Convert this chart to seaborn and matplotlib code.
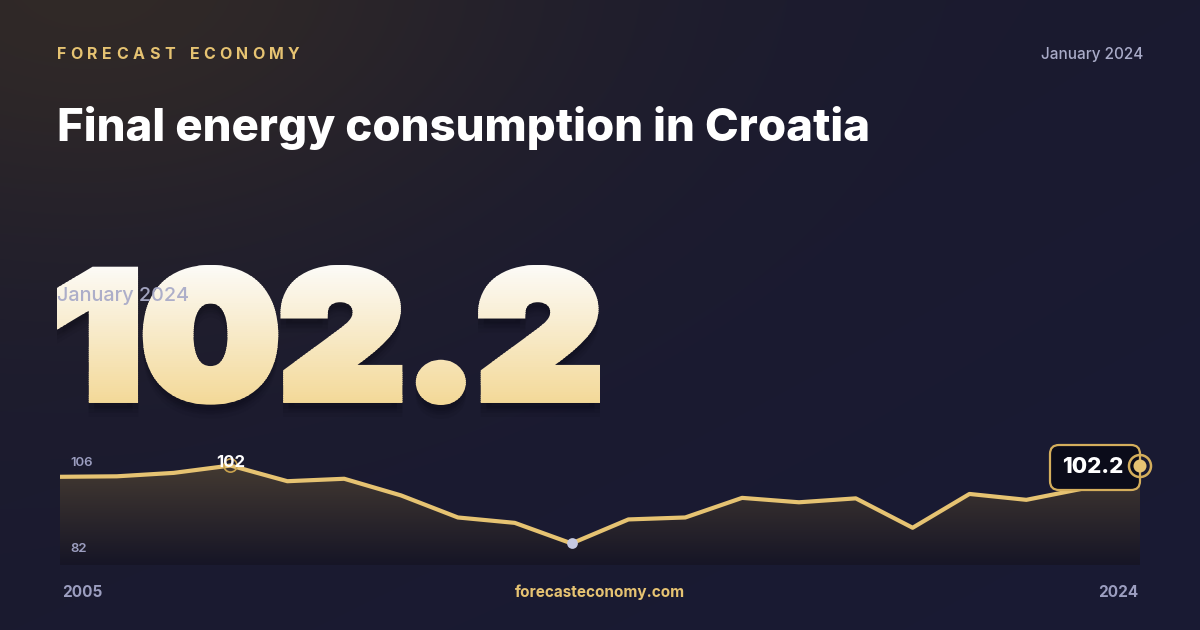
import numpy as np
import pandas as pd
import matplotlib
matplotlib.use("Agg")
import matplotlib.pyplot as plt
import seaborn as sns
from matplotlib.patches import Polygon, PathPatch, FancyBboxPatch, Circle, Rectangle
from matplotlib.textpath import TextPath
from matplotlib.font_manager import FontProperties, findfont
from matplotlib.transforms import Affine2D

# Data (annual index)
years = [2005, 2006, 2007, 2008, 2009, 2010, 2011, 2012, 2013, 2014,
         2015, 2016, 2017, 2018, 2019, 2020, 2021, 2022, 2023, 2024]
values = [100.0, 100.1, 100.8, 102.3, 99.1, 99.6, 96.2, 91.7, 90.6, 86.4,
          91.3, 91.7, 95.7, 94.8, 95.6, 89.6, 96.5, 95.3, 97.6, 102.2]
y_ticks = [106, 82]
latest_value = "102.2"
peak_label = "102"
period = "January 2024"
title = "Final energy consumption in Croatia"
brand = "FORECAST ECONOMY"
site = "forecasteconomy.com"

df = pd.DataFrame({"year": years, "value": values})

GOLD = "#e6c372"
MUTED = "#9c9ec0"
W, H = 1200, 630

sns.set_theme(style="white")
plt.rcParams["font.family"] = ["Inter", "DejaVu Sans"]


def inter(weight):
    # pin the exact font file so the weight is honoured
    path = findfont(FontProperties(family="Inter", weight=weight), fallback_to_default=True)
    return FontProperties(fname=path)


fp_black = inter(900)
fp_xbold = inter(800)
fp_bold = inter(700)
fp_semi = inter(600)
fp_med = inter(500)

fig = plt.figure(figsize=(12, 6.3), dpi=100)

# background canvas in pixel coordinates
bg = fig.add_axes([0, 0, 1, 1])
bg.set_xlim(0, W)
bg.set_ylim(H, 0)
bg.axis("off")

yy, xx = np.mgrid[0:H, 0:W]
base0 = np.array([0x1c, 0x1b, 0x2c]) / 255
base1 = np.array([0x19, 0x1a, 0x34]) / 255
t = ((xx / W) * 0.5 + (yy / H) * 0.5)[..., None]
img = base0 * (1 - t) + base1 * t
glow = np.exp(-(((xx - 90) / 450.0) ** 2 + ((yy + 20) / 280.0) ** 2))[..., None]
warm = np.array([0x33, 0x2b, 0x27]) / 255
img = img * (1 - glow * 0.9) + warm * glow * 0.9
bg.imshow(img, extent=[0, W, H, 0], aspect="auto", zorder=0)

# header
bsize = 11.5
bx = 57
for ch in brand:
    bg.text(bx, 59, ch, color=GOLD, fontproperties=fp_bold, fontsize=bsize,
            va="baseline", ha="left")
    if ch == " ":
        wch = 4
    else:
        wch = TextPath((0, 0), ch, prop=fp_bold, size=bsize * 100 / 72).get_extents().width
    bx += wch + 5.9
bg.text(1143, 59, period, color="#a9abc8", fontproperties=fp_med, fontsize=11,
        ha="right", va="baseline")
bg.text(57, 141, title, color="white", fontproperties=fp_xbold, fontsize=32.8,
        ha="left", va="baseline")

# big gradient number (stroked to get the extra-heavy look)
thick = 5.5  # px added on each side of the outline
x0, x1, y0, y1 = 57, 600, 265, 405
tp = TextPath((0, 0), latest_value, prop=fp_black, size=193)
ext = tp.get_extents()
sx = (x1 - x0 - 2 * thick) / ext.width
sy = (y1 - y0 - 2 * thick) / ext.height
tr = Affine2D().translate(-ext.x0, -ext.y0).scale(sx, -sy).translate(x0 + thick, y1 - thick)
path = tr.transform_path(tp)
lw = 2 * thick * 72 / 100

for dy, a in [(14, 0.06), (10, 0.08), (6, 0.10)]:
    sh = PathPatch(Affine2D().translate(0, dy).transform_path(path), facecolor="#05050c",
                   edgecolor="#05050c", linewidth=lw, joinstyle="miter", alpha=a, zorder=2)
    bg.add_patch(sh)

top_c = np.array([0xfc, 0xfb, 0xf8])
bot_c = np.array([0xf3, 0xd8, 0x96])
n_band = 75
edges = np.linspace(y0 - 2, y1 + 2, n_band + 1)
for i in range(n_band):
    f = i / (n_band - 1)
    c = tuple((top_c * (1 - f) + bot_c * f) / 255)
    band = PathPatch(path, facecolor=c, edgecolor=c, linewidth=lw,
                     joinstyle="miter", zorder=3)
    bg.add_patch(band)
    clip = Rectangle((0, edges[i]), W, edges[i + 1] - edges[i] + 0.6, transform=bg.transData)
    band.set_clip_path(clip)

bg.text(57, 301, period, color="#a9abc8", fontproperties=fp_med, fontsize=14.3,
        ha="left", va="baseline", alpha=0.95, zorder=4)

# footer
bg.text(62, 597, "2005", color=MUTED, fontproperties=fp_bold, fontsize=11, va="baseline")
bg.text(1138, 597, "2024", color=MUTED, fontproperties=fp_bold, fontsize=11,
        va="baseline", ha="right")
bg.text(600, 597, site, color=GOLD, fontproperties=fp_bold, fontsize=11,
        va="baseline", ha="center")

# chart axes
ax = fig.add_axes([60 / W, (H - 565) / H, 1080 / W, 117.6 / H])
ax.patch.set_alpha(0)

verts = [(years[0], 82)] + list(zip(years, values)) + [(years[-1], 82)]
area = Polygon(verts, closed=True, facecolor="none", edgecolor="none")
ax.add_patch(area)
ag = np.linspace(0, 1, 256)[:, None, None]
a_top = np.array([0x45, 0x3b, 0x32]) / 255
a_bot = np.array([0x16, 0x15, 0x26]) / 255
aimg = a_top * (1 - ag) + a_bot * ag
ai = ax.imshow(aimg, extent=[2005, 2024, 82, 103], aspect="auto", zorder=1)
ai.set_clip_path(area)

sns.lineplot(data=df, x="year", y="value", ax=ax, color=GOLD, linewidth=3,
             zorder=3, solid_joinstyle="round", solid_capstyle="round")
ax.set_xlim(2005, 2024)
ax.set_ylim(82, 106)
ax.axis("off")

# min / max markers
imin = int(np.argmin(values))
imax = int(np.argmax(values))
ax.scatter([years[imin]], [values[imin]], s=60, color="#c6c9e2", zorder=5, linewidths=0)
ax.scatter([years[imax]], [values[imax]], s=90, facecolors="none",
           edgecolors="#c9a24e", linewidths=1.2, zorder=5)
ax.annotate(peak_label, (years[imax], values[imax]), xytext=(0, -1),
            textcoords="offset points", ha="center", va="baseline",
            color="white", fontproperties=fp_bold, fontsize=12, zorder=6)

# overlay layer in pixel coords
top = fig.add_axes([0, 0, 1, 1])
top.set_xlim(0, W)
top.set_ylim(H, 0)
top.axis("off")
top.patch.set_alpha(0)

top.text(70, 466, str(y_ticks[0]), color=MUTED, fontproperties=fp_semi, fontsize=9.5,
         va="baseline", zorder=6)
top.text(70, 552, str(y_ticks[1]), color=MUTED, fontproperties=fp_semi, fontsize=9.5,
         va="baseline", zorder=6)

badge = FancyBboxPatch((1050, 445), 90, 45, boxstyle="round,pad=0,rounding_size=9",
                       facecolor="#0b0c1a", edgecolor="#d4ae5c", linewidth=1.6, zorder=5)
top.add_patch(badge)
top.text(1093, 473, latest_value, color="white", fontproperties=fp_xbold, fontsize=16,
         ha="center", va="baseline", zorder=6)
ex, ey = fig.transFigure.inverted().transform(ax.transData.transform((years[-1], values[-1])))
top.add_patch(Circle((ex * W, H - ey * H), 11, facecolor="none", edgecolor="#d4ae5c",
                     linewidth=1.8, zorder=7))
top.add_patch(Circle((ex * W, H - ey * H), 6.5, facecolor=GOLD, edgecolor="none", zorder=7))

fig.savefig("out.png", dpi=100)
